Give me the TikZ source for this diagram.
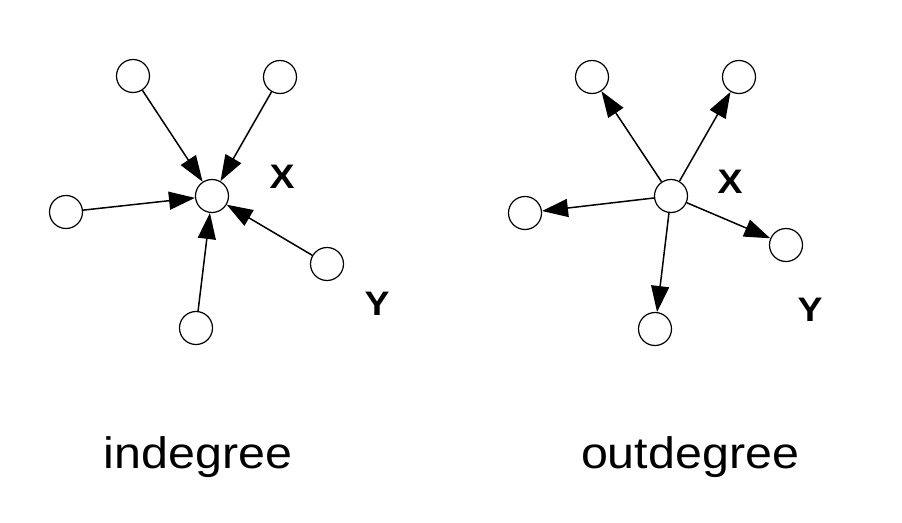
\documentclass[tikz,border=0pt]{standalone}
\usepackage{fontspec}
\setmainfont{Liberation Sans}
\newfontfamily\widesans[FakeStretch=1.1]{Liberation Sans}
\usetikzlibrary{arrows.meta}
\begin{document}
\begin{tikzpicture}[x=1pt,y=-1pt,
  vert/.style={circle,draw,line width=1.2pt,minimum size=33pt,inner sep=0pt},
  edge/.style={line width=1.5pt,-{Triangle[length=26pt,width=18pt]}},
  lab/.style={inner sep=0pt,font=\widesans\fontsize{34}{38}\selectfont\bfseries},
  captext/.style={anchor=base,inner sep=0pt,font=\widesans\fontsize{44}{50}\selectfont}]
\useasboundingbox (0,0) rectangle (902,522);
% indegree
\node[vert] (c1) at (212,196) {};
\node[vert] (a1) at (133,76) {};
\node[vert] (b1) at (280,77) {};
\node[vert] (l1) at (66,212) {};
\node[vert] (r1) at (327,264) {};
\node[vert] (d1) at (196,328) {};
\node[lab] (x1) at (282,177) {X};
\node[lab] (y1) at (377,304) {Y};
\draw[edge] (a1) -- (c1);
\draw[edge] (b1) -- (c1);
\draw[edge] (l1) -- (c1);
\draw[edge] (r1) -- (c1);
\draw[edge] (d1) -- (c1);
% outdegree
\node[vert] (c2) at (671,196) {};
\node[vert] (a2) at (592,77) {};
\node[vert] (b2) at (739,77) {};
\node[vert] (l2) at (525,213) {};
\node[vert] (r2) at (786,245) {};
\node[vert] (d2) at (655,329) {};
\node[lab] (x2) at (730,182) {X};
\node[lab] (y2) at (810,310) {Y};
\draw[edge] (c2) -- (a2);
\draw[edge] (c2) -- (b2);
\draw[edge] (c2) -- (l2);
\draw[edge] (c2) -- (r2);
\draw[edge] (c2) -- (d2);
% captions
\node[captext] (t1) at (198,468) {indegree};
\node[captext] (t2) at (690,468) {outdegree};
\end{tikzpicture}
\end{document}
